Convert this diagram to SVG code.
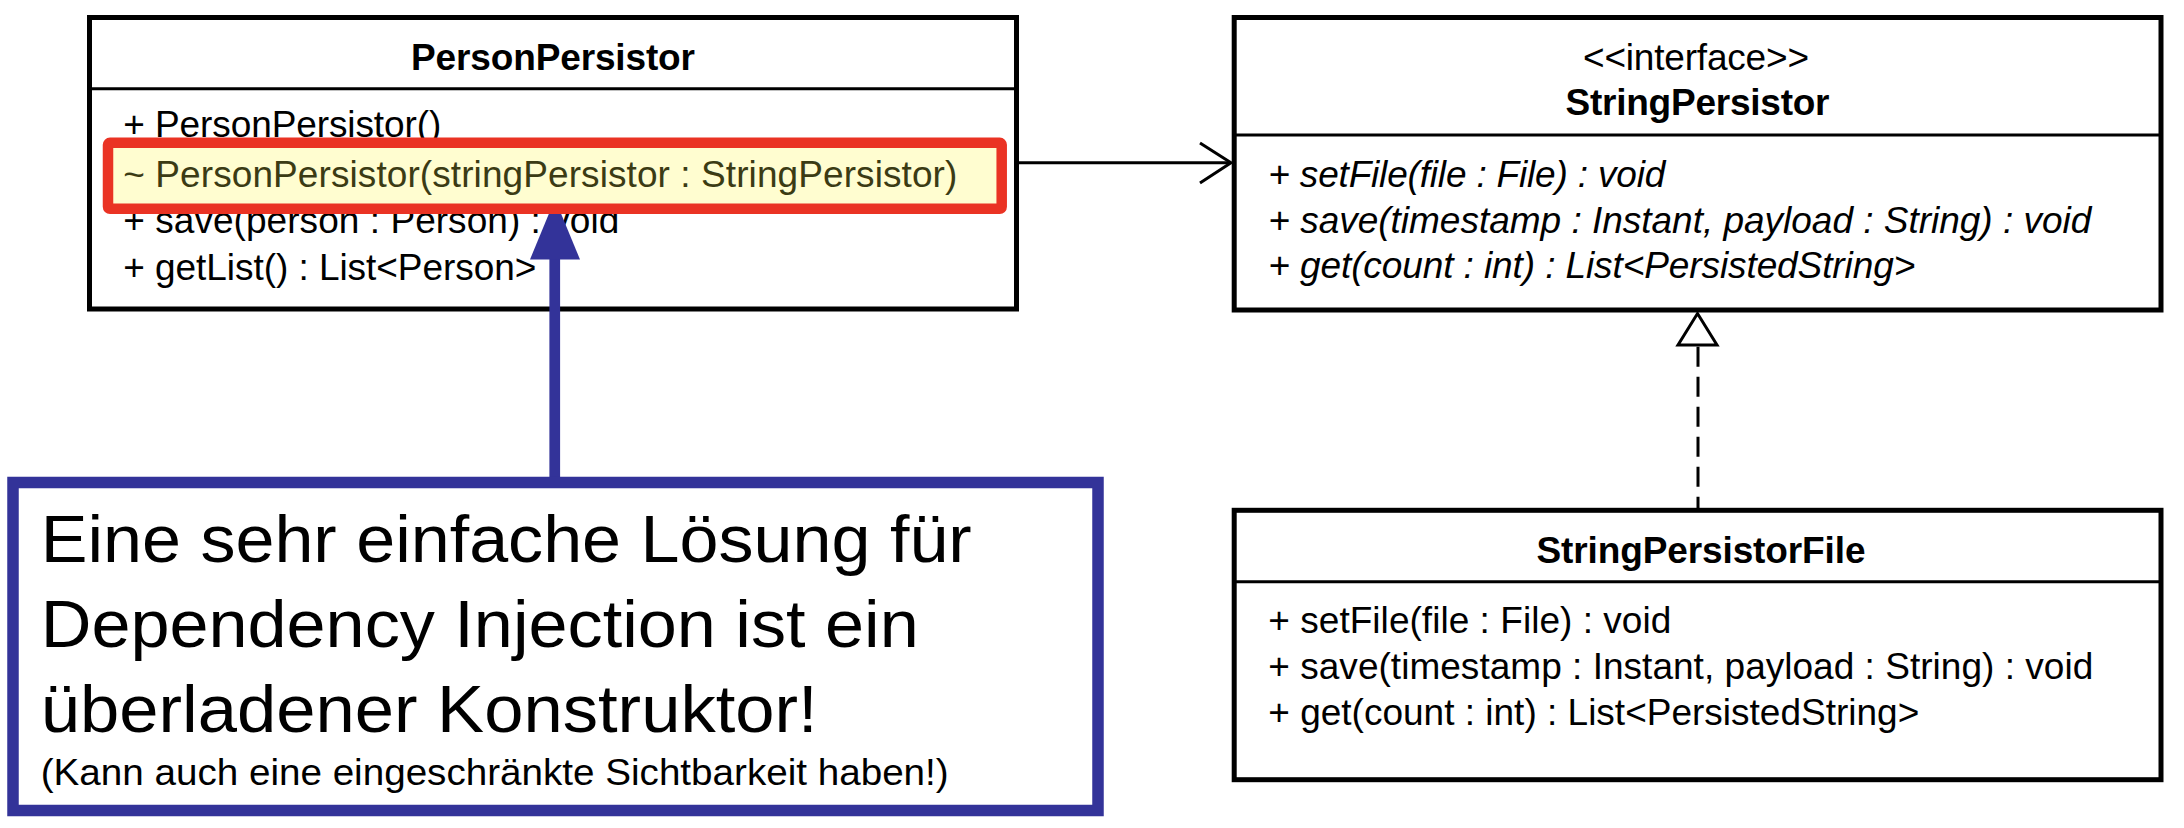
<svg xmlns="http://www.w3.org/2000/svg" width="2184" height="828" viewBox="0 0 2184 828">
  <style>
    .box { fill: #ffffff; stroke: #000000; stroke-width: 5; }
    .sep { stroke: #000000; stroke-width: 3; }
    .t { font-family: "Liberation Sans", Arial, sans-serif; font-size: 37px; fill: #000000; }
    .b { font-weight: bold; }
    .i { font-style: italic; }
    .mid { text-anchor: middle; }
    .edge { fill: none; stroke: #000000; stroke-width: 3; }
    .blue { fill: #333399; }
    .note-t { font-family: "Liberation Sans", Arial, sans-serif; fill: #000000; }
  </style>
  <rect width="2184" height="828" fill="#ffffff"/>

  <g id="PersonPersistor">
    <rect class="box" x="89.5" y="17.5" width="927" height="291.5"/>
    <line class="sep" x1="89.5" y1="88.7" x2="1016.5" y2="88.7"/>
    <text class="t b mid" x="553" y="70" textLength="284">PersonPersistor</text>
    <text class="t" x="123.3" y="136.7" textLength="318">+ PersonPersistor()</text>
    <text class="t" x="123.3" y="233.3" textLength="496">+ save(person : Person) : void</text>
    <text class="t" x="123.3" y="280" textLength="413">+ getList() : List&lt;Person&gt;</text>
  </g>

  <g id="StringPersistor">
    <rect class="box" x="1234.2" y="17.5" width="926.8" height="292.5"/>
    <line class="sep" x1="1234.2" y1="135" x2="2161" y2="135"/>
    <text class="t mid" x="1696" y="70" textLength="226">&lt;&lt;interface&gt;&gt;</text>
    <text class="t b mid" x="1697.5" y="115" textLength="264">StringPersistor</text>
    <text class="t i" x="1268.3" y="187.3" textLength="397">+ setFile(file : File) : void</text>
    <text class="t i" x="1268.3" y="233.3" textLength="823">+ save(timestamp : Instant, payload : String) : void</text>
    <text class="t i" x="1268.3" y="278.3" textLength="647">+ get(count : int) : List&lt;PersistedString&gt;</text>
  </g>

  <g id="StringPersistorFile">
    <rect class="box" x="1234.2" y="510.3" width="926.8" height="269.4"/>
    <line class="sep" x1="1234.2" y1="581.7" x2="2161" y2="581.7"/>
    <text class="t b mid" x="1701" y="563.3" textLength="329">StringPersistorFile</text>
    <text class="t" x="1268.3" y="632.7" textLength="403">+ setFile(file : File) : void</text>
    <text class="t" x="1268.3" y="679.3" textLength="825">+ save(timestamp : Instant, payload : String) : void</text>
    <text class="t" x="1268.3" y="725" textLength="651">+ get(count : int) : List&lt;PersistedString&gt;</text>
  </g>

  <g id="connectors">
    <g id="dependency">
      <line class="edge" x1="1019" y1="162.7" x2="1230" y2="162.7"/>
      <polyline class="edge" points="1200,143 1231,162.7 1200,183"/>
    </g>
    <g id="realization">
      <line class="edge" x1="1698" y1="346.7" x2="1698" y2="508" stroke-dasharray="20 10"/>
      <polygon points="1697.5,313.5 1717,345 1678,345" fill="#ffffff" stroke="#000000" stroke-width="3"/>
    </g>
    <g id="callout-arrow">
      <rect class="blue" x="549.4" y="258" width="10.7" height="222"/>
      <polygon class="blue" points="555,199 580,259.5 530,259.5"/>
    </g>
  </g>

  <g id="highlight">
    <rect x="108" y="142.8" width="893.7" height="66" rx="2" fill="#FFFDD0" stroke="#EA3324" stroke-width="10.5"/>
    <text class="t" x="123.3" y="187.3" textLength="834" style="fill:#3b3b14">~ PersonPersistor(stringPersistor : StringPersistor)</text>
  </g>

  <g id="note">
    <rect x="13" y="482.5" width="1085" height="328" fill="#ffffff" stroke="#333399" stroke-width="11.5"/>
    <text class="note-t" x="40.7" y="561.7" font-size="66" textLength="931" lengthAdjust="spacingAndGlyphs">Eine sehr einfache Lösung für</text>
    <text class="note-t" x="40.7" y="646.7" font-size="66" textLength="878" lengthAdjust="spacingAndGlyphs">Dependency Injection ist ein</text>
    <text class="note-t" x="40.7" y="731.7" font-size="66" textLength="777" lengthAdjust="spacingAndGlyphs">überladener Konstruktor!</text>
    <text class="note-t" x="40.7" y="785" font-size="37" textLength="908" lengthAdjust="spacingAndGlyphs">(Kann auch eine eingeschränkte Sichtbarkeit haben!)</text>
  </g>
</svg>
